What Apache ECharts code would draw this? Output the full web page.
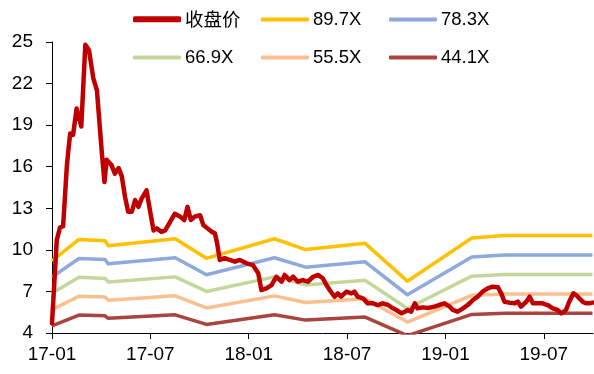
<!DOCTYPE html>
<html>
<head>
<meta charset="utf-8">
<script src="https://cdn.jsdelivr.net/npm/echarts@6/dist/echarts.min.js"></script>
<style>
  html, body { margin: 0; padding: 0; background: #fff; }
  #chart { width: 594px; height: 374px; }
</style>
</head>
<body>
<div id="chart"></div>
<script>
// Closing price (sampled) and PE band lines
const closeDates = [
  '2017-01-01','2017-01-10','2017-01-16','2017-01-22','2017-01-29','2017-02-01','2017-02-04','2017-02-09',
  '2017-02-15','2017-02-18','2017-02-23','2017-03-02','2017-03-09','2017-03-17','2017-03-24','2017-04-02',
  '2017-04-07','2017-04-11','2017-04-20','2017-04-26','2017-05-03','2017-05-09','2017-05-15','2017-05-21',
  '2017-05-28','2017-06-03','2017-06-09','2017-06-15','2017-06-24','2017-06-30','2017-07-07','2017-07-13',
  '2017-07-22','2017-07-29','2017-08-07','2017-08-16','2017-08-26','2017-09-03','2017-09-09','2017-09-15',
  '2017-09-22','2017-10-02','2017-10-08','2017-10-16','2017-10-24','2017-10-30','2017-11-03','2017-11-08',
  '2017-11-17','2017-11-26','2017-12-06','2017-12-15','2017-12-28','2018-01-09','2018-01-19','2018-01-25',
  '2018-02-03','2018-02-12','2018-02-20','2018-03-01','2018-03-07','2018-03-16','2018-03-23','2018-04-01',
  '2018-04-10','2018-04-19','2018-04-29','2018-05-08','2018-05-11','2018-05-17','2018-05-24','2018-05-30',
  '2018-06-08','2018-06-14','2018-06-20','2018-06-30','2018-07-09','2018-07-15','2018-07-21','2018-07-31',
  '2018-08-09','2018-08-19','2018-08-28','2018-09-06','2018-09-16','2018-09-25','2018-10-01','2018-10-11',
  '2018-10-17','2018-10-23','2018-10-29','2018-11-05','2018-11-10','2018-11-20','2018-11-29','2018-12-11',
  '2018-12-20','2018-12-30','2019-01-09','2019-01-15','2019-01-24','2019-02-03','2019-02-11','2019-02-20',
  '2019-02-28','2019-03-09','2019-03-19','2019-03-28','2019-04-07','2019-04-13','2019-04-19','2019-04-28',
  '2019-05-08','2019-05-14','2019-05-20','2019-05-30','2019-06-05','2019-06-11','2019-06-20','2019-06-29',
  '2019-07-08','2019-07-18','2019-07-27','2019-08-03','2019-08-12','2019-08-18','2019-08-26','2019-08-31',
  '2019-09-06','2019-09-12','2019-09-18','2019-09-24','2019-09-30'
];
const closeValues = [
  4.7, 10.7, 11.6, 11.7, 16.0, 17.2, 18.4, 18.3,
  20.2, 20.3, 18.9, 24.8, 24.4, 22.4, 21.5, 17.1,
  14.9, 16.5, 16.1, 15.5, 15.9, 15.3, 13.84, 12.75,
  12.75, 13.6, 13.1, 13.7, 14.3, 12.9, 11.4, 11.55,
  11.3, 11.4, 12.0, 12.6, 12.4, 12.15, 13.1, 12.15,
  12.4, 12.5, 11.8, 11.55, 11.3, 11.2, 10.5, 9.27,
  9.4, 9.27, 9.15, 9.27, 9.03, 8.9, 8.31, 7.1,
  7.22, 7.46, 8.06, 7.7, 8.19, 7.82, 8.06, 7.7,
  7.82, 7.7, 8.06, 8.19, 8.19, 7.95, 7.46, 7.1,
  6.62, 6.86, 6.62, 6.98, 6.86, 6.98, 6.62, 6.5,
  6.14, 6.14, 6.02, 6.14, 6.02, 5.78, 5.66, 5.42,
  5.54, 5.66, 5.54, 6.14, 5.78, 5.85, 5.8, 5.9,
  6.02, 6.14, 5.9, 5.66, 5.54, 5.78, 6.02, 6.38,
  6.62, 6.98, 7.22, 7.34, 7.3, 6.86, 6.26, 6.19,
  6.14, 6.26, 5.9, 6.26, 6.62, 6.14, 6.14, 6.14,
  6.02, 5.78, 5.66, 5.42, 5.66, 6.26, 6.86, 6.74,
  6.5, 6.26, 6.14, 6.14, 6.19
];

const bandDates = [
  '2017-01-01','2017-02-19','2017-04-08','2017-04-14','2017-08-17','2017-10-14','2018-02-17',
  '2018-04-15','2018-08-04','2018-10-22','2019-02-18','2019-04-19','2019-09-30'
];
const pe897 = [9.2, 10.75, 10.65, 10.3, 10.8, 9.39, 10.8, 10.02, 10.47, 7.74, 10.86, 11.03, 11.03];
const pe783 = [8.03, 9.38, 9.30, 8.99, 9.43, 8.20, 9.43, 8.75, 9.14, 6.76, 9.48, 9.63, 9.63];
const pe669 = [6.86, 8.02, 7.94, 7.68, 8.05, 7.00, 8.05, 7.47, 7.81, 5.77, 8.10, 8.23, 8.23];
const pe555 = [5.69, 6.65, 6.59, 6.37, 6.68, 5.81, 6.68, 6.20, 6.48, 4.79, 6.72, 6.82, 6.82];
const pe441 = [4.52, 5.29, 5.24, 5.06, 5.31, 4.62, 5.31, 4.93, 5.15, 3.81, 5.34, 5.42, 5.42];

const xTickLabels = ['17-01', '17-07', '18-01', '18-07', '19-01', '19-07'];
const yTicks = [4, 7, 10, 13, 16, 19, 22, 25];

// Months elapsed since 2017-01-01 (fractional), used as the x coordinate
function monthIndex(s) {
  const [y, m, d] = s.split('-').map(Number);
  const dim = new Date(y, m, 0).getDate();
  return (y - 2017) * 12 + (m - 1) + (d - 1) / dim;
}
function pairs(dates, vals) {
  return dates.map((d, i) => [monthIndex(d), vals[i]]);
}

const FONT = '"Liberation Sans", Arial, sans-serif';

const bands = [
  { name: '89.7X', data: pe897, color: '#FFC000' },
  { name: '78.3X', data: pe783, color: '#8EA9DB' },
  { name: '66.9X', data: pe669, color: '#C4D79B' },
  { name: '55.5X', data: pe555, color: '#FABF8F' },
  { name: '44.1X', data: pe441, color: '#A9443F' }
];

const series = bands.map(b => ({
  name: b.name,
  type: 'line',
  data: pairs(bandDates, b.data),
  symbol: 'none',
  lineStyle: { color: b.color, width: 3.5, join: 'round' },
  itemStyle: { color: b.color },
  z: 2
}));
series.push({
  name: '收盘价',
  type: 'line',
  data: pairs(closeDates, closeValues),
  symbol: 'none',
  lineStyle: { color: '#C00000', width: 4.5, join: 'round', cap: 'round' },
  itemStyle: { color: '#C00000' },
  z: 3
});

// One legend per entry, laid out as a 3 x 2 grid
const legendSlots = [
  { name: '收盘价', left: 133, top: 10, h: 6, color: '#C00000', font: '"Noto Sans CJK SC", sans-serif' },
  { name: '89.7X', left: 261, top: 10, h: 4, color: '#FFC000' },
  { name: '78.3X', left: 389, top: 10, h: 4, color: '#8EA9DB' },
  { name: '66.9X', left: 133, top: 48, h: 4, color: '#C4D79B' },
  { name: '55.5X', left: 261, top: 48, h: 4, color: '#FABF8F' },
  { name: '44.1X', left: 389, top: 48, h: 4, color: '#A9443F' }
];
const legends = legendSlots.map(s => ({
  data: [{ name: s.name, icon: 'roundRect', itemStyle: { color: s.color } }],
  left: s.left,
  top: s.top,
  padding: 0,
  itemWidth: 48,
  itemHeight: s.h,
  itemGap: 0,
  selectedMode: false,
  textStyle: { fontFamily: s.font || FONT, fontSize: 18.5, color: '#000', padding: [0, 0, 0, -1] }
}));

const chart = echarts.init(document.getElementById('chart'), null, { renderer: 'canvas' });
chart.setOption({
  animation: false,
  backgroundColor: '#fff',
  legend: legends,
  grid: { left: 52, right: 1, top: 42, bottom: 41, containLabel: false },
  xAxis: {
    type: 'value',
    min: 0,
    max: 33,
    interval: 6,
    axisLine: { show: true, lineStyle: { color: '#000', width: 1 } },
    axisTick: { show: true, inside: false, length: 6, lineStyle: { color: '#000' }, customValues: [0, 6, 12, 18, 24, 30] },
    axisLabel: {
      customValues: [0, 6, 12, 18, 24, 30],
      formatter: v => xTickLabels[Math.round(v / 6)] || '',
      fontFamily: FONT, fontSize: 19, color: '#000', margin: 12
    },
    splitLine: { show: false }
  },
  yAxis: {
    type: 'value',
    min: 4,
    max: 25,
    interval: 3,
    axisLine: { show: true, lineStyle: { color: '#000', width: 1 } },
    axisTick: { show: true, inside: false, length: 6, lineStyle: { color: '#000' }, customValues: yTicks },
    axisLabel: { customValues: yTicks, fontFamily: FONT, fontSize: 19, color: '#000', margin: 19 },
    splitLine: { show: false }
  },
  series: series
});
</script>
</body>
</html>
